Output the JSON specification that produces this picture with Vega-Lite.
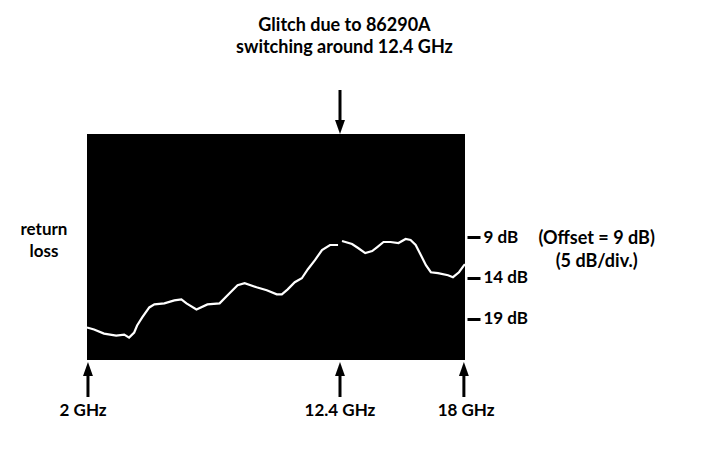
{
  "$schema": "https://vega.github.io/schema/vega-lite/v6.json",
  "width": 378,
  "height": 226,
  "autosize": {"type": "none"},
  "padding": {"left": 87, "top": 134, "right": 249, "bottom": 89},
  "background": "white",
  "config": {
    "view": {"fill": "black", "stroke": null},
    "font": "Lato"
  },
  "datasets": {
    "trace": [
      {"x": 2.0, "y": 20.11, "seg": "a"}, {"x": 2.29, "y": 20.35, "seg": "a"}, {"x": 2.7, "y": 20.85, "seg": "a"},
      {"x": 3.2, "y": 21.09, "seg": "a"}, {"x": 3.53, "y": 20.97, "seg": "a"}, {"x": 3.73, "y": 21.34, "seg": "a"},
      {"x": 3.94, "y": 20.72, "seg": "a"}, {"x": 4.06, "y": 19.86, "seg": "a"}, {"x": 4.27, "y": 18.87, "seg": "a"},
      {"x": 4.56, "y": 17.64, "seg": "a"}, {"x": 4.77, "y": 17.27, "seg": "a"}, {"x": 5.18, "y": 17.14, "seg": "a"},
      {"x": 5.59, "y": 16.77, "seg": "a"}, {"x": 5.88, "y": 16.65, "seg": "a"}, {"x": 6.09, "y": 17.14, "seg": "a"},
      {"x": 6.5, "y": 17.88, "seg": "a"}, {"x": 6.95, "y": 17.27, "seg": "a"}, {"x": 7.45, "y": 17.14, "seg": "a"},
      {"x": 7.86, "y": 15.91, "seg": "a"}, {"x": 8.19, "y": 14.92, "seg": "a"}, {"x": 8.48, "y": 14.67, "seg": "a"},
      {"x": 8.97, "y": 15.17, "seg": "a"}, {"x": 9.39, "y": 15.54, "seg": "a"}, {"x": 9.8, "y": 16.03, "seg": "a"},
      {"x": 10.01, "y": 16.03, "seg": "a"}, {"x": 10.25, "y": 15.42, "seg": "a"}, {"x": 10.54, "y": 14.55, "seg": "a"},
      {"x": 10.83, "y": 14.06, "seg": "a"}, {"x": 11.08, "y": 12.95, "seg": "a"}, {"x": 11.37, "y": 11.84, "seg": "a"},
      {"x": 11.66, "y": 10.6, "seg": "a"}, {"x": 11.99, "y": 9.98, "seg": "a"}, {"x": 12.32, "y": 9.98, "seg": "a"},
      {"x": 12.49, "y": 9.49, "seg": "b"}, {"x": 12.94, "y": 9.86, "seg": "b"}, {"x": 13.21, "y": 10.35, "seg": "b"},
      {"x": 13.53, "y": 10.97, "seg": "b"}, {"x": 13.84, "y": 10.72, "seg": "b"}, {"x": 14.07, "y": 10.23, "seg": "b"},
      {"x": 14.35, "y": 9.61, "seg": "b"}, {"x": 14.66, "y": 9.61, "seg": "b"}, {"x": 15.02, "y": 9.74, "seg": "b"},
      {"x": 15.34, "y": 9.24, "seg": "b"}, {"x": 15.56, "y": 9.37, "seg": "b"}, {"x": 15.79, "y": 9.98, "seg": "b"},
      {"x": 16.02, "y": 11.22, "seg": "b"}, {"x": 16.25, "y": 12.45, "seg": "b"}, {"x": 16.47, "y": 13.32, "seg": "b"},
      {"x": 16.79, "y": 13.44, "seg": "b"}, {"x": 17.24, "y": 13.69, "seg": "b"}, {"x": 17.46, "y": 13.93, "seg": "b"},
      {"x": 17.73, "y": 13.32, "seg": "b"}, {"x": 17.96, "y": 12.45, "seg": "b"}, {"x": 18.0, "y": 12.33, "seg": "b"}
    ],
    "shafts": [
      {"x": 12.4, "y": -9.04, "y2": -5.24},
      {"x": 2.04, "y": 25.93, "y2": 28.63},
      {"x": 12.4, "y": 25.93, "y2": 28.63},
      {"x": 17.95, "y": 25.93, "y2": 28.63}
    ],
    "headsDown": [{"x": 12.4, "y": -4.5}],
    "headsUp": [
      {"x": 2.04, "y": 25.19},
      {"x": 12.4, "y": 25.19},
      {"x": 17.95, "y": 25.19}
    ],
    "topText": [
      {"x": 12.6, "y": -16.28, "t": "Glitch due to 86290A"},
      {"x": 12.6, "y": -13.58, "t": "switching around 12.4 GHz"}
    ],
    "offsetText": [
      {"x": 23.9, "y": 9.8, "t": "(Offset = 9 dB)"},
      {"x": 23.9, "y": 12.65, "t": "(5 dB/div.)"}
    ],
    "sideText": [
      {"x": 0.23, "y": 8.75, "t": "return"},
      {"x": 0.23, "y": 11.45, "t": "loss"},
      {"x": 1.84, "y": 30.96, "t": "2 GHz"},
      {"x": 12.4, "y": 30.96, "t": "12.4 GHz"},
      {"x": 18.05, "y": 30.96, "t": "18 GHz"}
    ]
  },
  "encoding": {
    "x": {
      "field": "x", "type": "quantitative",
      "scale": {"domain": [2, 12.4, 18], "range": [0, 253, 378], "zero": false, "nice": false},
      "axis": null
    },
    "y": {
      "field": "y", "type": "quantitative",
      "scale": {"domain": [-3.64, 24.09], "reverse": true, "zero": false, "nice": false},
      "axis": {
        "orient": "right", "values": [9, 14, 19], "labelExpr": "datum.value + ' dB'",
        "domain": false, "grid": false, "offset": 2, "tickSize": 13, "tickWidth": 3,
        "tickColor": "black", "labelPadding": 3, "labelFont": "Lato", "labelFontSize": 17,
        "labelFontWeight": "bold", "labelColor": "black", "title": null
      }
    }
  },
  "layer": [
    {
      "data": {"name": "trace"},
      "mark": {"type": "line", "color": "white", "strokeWidth": 2.2, "interpolate": "linear"},
      "encoding": {"detail": {"field": "seg"}}
    },
    {
      "data": {"name": "shafts"},
      "mark": {"type": "rule", "color": "black", "strokeWidth": 3},
      "encoding": {"y2": {"field": "y2"}}
    },
    {
      "data": {"name": "headsDown"},
      "mark": {"type": "point", "shape": "M-0.7,-1L0.7,-1L0,1Z", "size": 200, "filled": true, "color": "black", "opacity": 1},
      "encoding": {}
    },
    {
      "data": {"name": "headsUp"},
      "mark": {"type": "point", "shape": "M-0.7,1L0.7,1L0,-1Z", "size": 200, "filled": true, "color": "black", "opacity": 1},
      "encoding": {}
    },
    {
      "data": {"name": "topText"},
      "mark": {"type": "text", "font": "Lato", "fontSize": 18, "fontWeight": "bold", "color": "black", "align": "center", "baseline": "alphabetic"},
      "encoding": {"text": {"field": "t"}}
    },
    {
      "data": {"name": "offsetText"},
      "mark": {"type": "text", "font": "Lato", "fontSize": 18, "fontWeight": "bold", "color": "black", "align": "center", "baseline": "alphabetic"},
      "encoding": {"text": {"field": "t"}}
    },
    {
      "data": {"name": "sideText"},
      "mark": {"type": "text", "font": "Lato", "fontSize": 17, "fontWeight": "bold", "color": "black", "align": "center", "baseline": "alphabetic"},
      "encoding": {"text": {"field": "t"}}
    }
  ]
}
